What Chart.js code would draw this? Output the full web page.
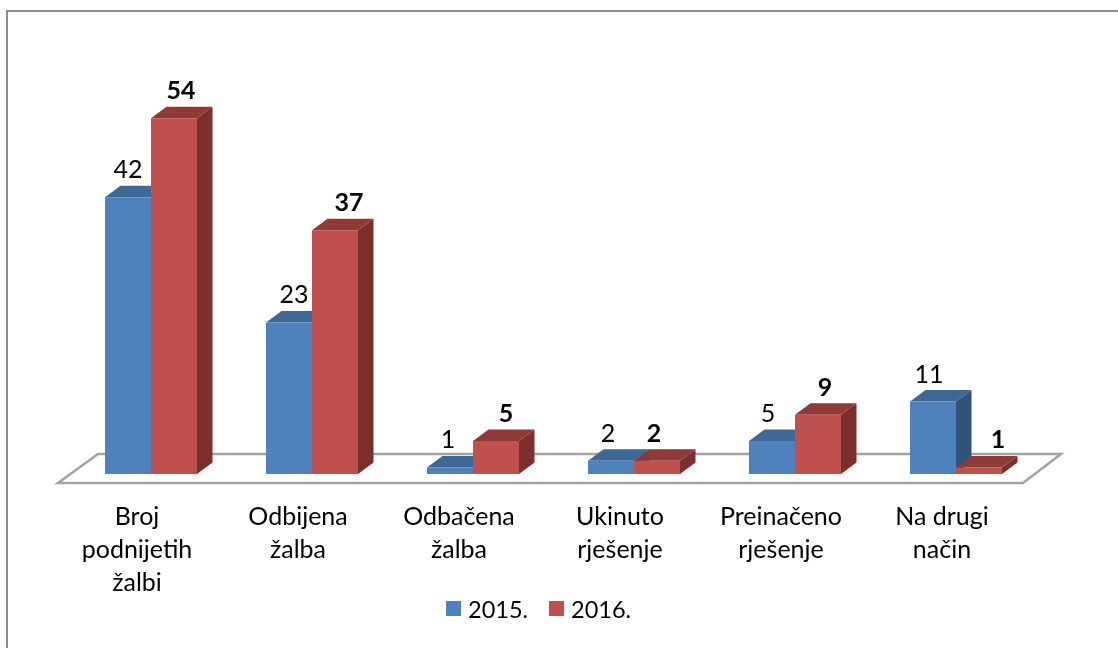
<!DOCTYPE html>
<html>
<head>
<meta charset="utf-8">
<script src="https://cdn.jsdelivr.net/npm/chart.js@4/dist/chart.umd.min.js"></script>
<style>
  html, body { margin: 0; padding: 0; background: #fff; }
  #wrap { position: relative; width: 1118px; height: 648px; overflow: hidden; }
  #frame { position: absolute; left: 6px; top: 10px; width: 1200px; height: 700px; border: 2px solid #8c8c8c; }
  #barChart { position: absolute; left: 0; top: 0; }
</style>
</head>
<body>
<div id="wrap">
  <div id="frame"></div>
  <canvas id="barChart" width="1118" height="648"></canvas>
</div>
<script>
var categories = [
  ["Broj", "podnijetih", "žalbi"],
  ["Odbijena", "žalba"],
  ["Odbačena", "žalba"],
  ["Ukinuto", "rješenje"],
  ["Preinačeno", "rješenje"],
  ["Na drugi", "način"]
];
var values2015 = [42, 23, 1, 2, 5, 11];
var values2016 = [54, 37, 5, 2, 9, 1];

// the value labels were placed by hand in the original, so they sit off-centre
var labelShift2015 = [0, 5, -2, -3, -4, -4];
var labelShift2016 = [7, 14, 10, -3, 7, 19];

var fontName = "Lato, 'Open Sans', sans-serif";
var depthX = 15.5, depthY = 11.5;

var faces = [
  { top: "#3e6896", side: "#305379" },
  { top: "#8e3a38", side: "#7b2f2d" }
];
var legendSpots = [446, 549];

function fillPoly(ctx, pts, color) {
  ctx.fillStyle = color;
  ctx.beginPath();
  ctx.moveTo(pts[0][0], pts[0][1]);
  for (var i = 1; i < pts.length; i++) ctx.lineTo(pts[i][0], pts[i][1]);
  ctx.closePath();
  ctx.fill();
}

/** floor and the top + side faces of the bars, the library draws the fronts **/
var depthPlugin = {
  id: "depth",
  beforeDatasetsDraw: function (chart) {
    var ctx = chart.ctx, area = chart.chartArea, base = chart.scales.y.getPixelForValue(0);
    ctx.save();
    ctx.strokeStyle = "#a3a3a3";
    ctx.lineWidth = 2.5;
    ctx.beginPath();
    ctx.moveTo(area.left - 12.5, base + 9);
    ctx.lineTo(area.left + 27.5, base - 20);
    ctx.lineTo(area.right + 24.5, base - 20);
    ctx.lineTo(area.right - 13.5, base + 9);
    ctx.closePath();
    ctx.stroke();
    categories.forEach(function (c, i) {
      faces.forEach(function (face, d) {
        var bar = chart.getDatasetMeta(d).data[i];
        var x0 = bar.x - bar.width / 2, x1 = bar.x + bar.width / 2, y = bar.y;
        fillPoly(ctx, [[x1, y], [x1 + depthX, y - depthY], [x1 + depthX, base - depthY], [x1, base]], face.side);
        fillPoly(ctx, [[x0, y], [x1, y], [x1 + depthX, y - depthY], [x0 + depthX, y - depthY]], face.top);
      });
    });
    ctx.restore();
  },
  afterDatasetsDraw: function (chart) {
    var ctx = chart.ctx;
    ctx.save();
    ctx.fillStyle = "#000";
    ctx.textAlign = "center";
    ctx.textBaseline = "middle";
    chart.data.datasets.forEach(function (ds, d) {
      var shift = d === 0 ? labelShift2015 : labelShift2016;
      ctx.font = (d === 0 ? "" : "bold ") + "25px " + fontName;
      chart.getDatasetMeta(d).data.forEach(function (bar, i) {
        ctx.fillText(ds.data[i], bar.x + shift[i], bar.y - 27);
      });
    });
    // legend, gap between swatch and text is tighter than the built-in one
    ctx.textAlign = "left";
    ctx.font = "23.5px " + fontName;
    chart.data.datasets.forEach(function (ds, d) {
      ctx.fillStyle = ds.backgroundColor;
      ctx.fillRect(legendSpots[d], 601, 15, 15);
      ctx.fillStyle = "#000";
      ctx.fillText(ds.label, legendSpots[d] + 22, 610);
    });
    ctx.restore();
  }
};

var ctx = document.getElementById("barChart").getContext("2d");
new Chart(ctx, {
  type: "bar",
  data: {
    labels: categories,
    datasets: [
      { label: "2015.", data: values2015, backgroundColor: "#4f81bd" },
      { label: "2016.", data: values2016, backgroundColor: "#c0504d" }
    ]
  },
  options: {
    responsive: false,
    animation: false,
    categoryPercentage: 92 / 161,
    barPercentage: 1,
    layout: { padding: { left: 70.5, right: 81.5, top: 78.6, bottom: 0 } },
    plugins: {
      tooltip: { enabled: false },
      legend: { display: false }
    },
    scales: {
      x: {
        grid: { display: false },
        border: { display: false },
        ticks: {
          color: "#000",
          maxRotation: 0,
          autoSkip: false,
          padding: 18,
          labelOffset: -14,
          font: { family: fontName, size: 25, lineHeight: "33px" }
        },
        afterFit: function (scale) { scale.height = 174; }
      },
      y: { display: false, min: 0, max: 60 }
    }
  },
  plugins: [depthPlugin]
});
</script>
</body>
</html>
